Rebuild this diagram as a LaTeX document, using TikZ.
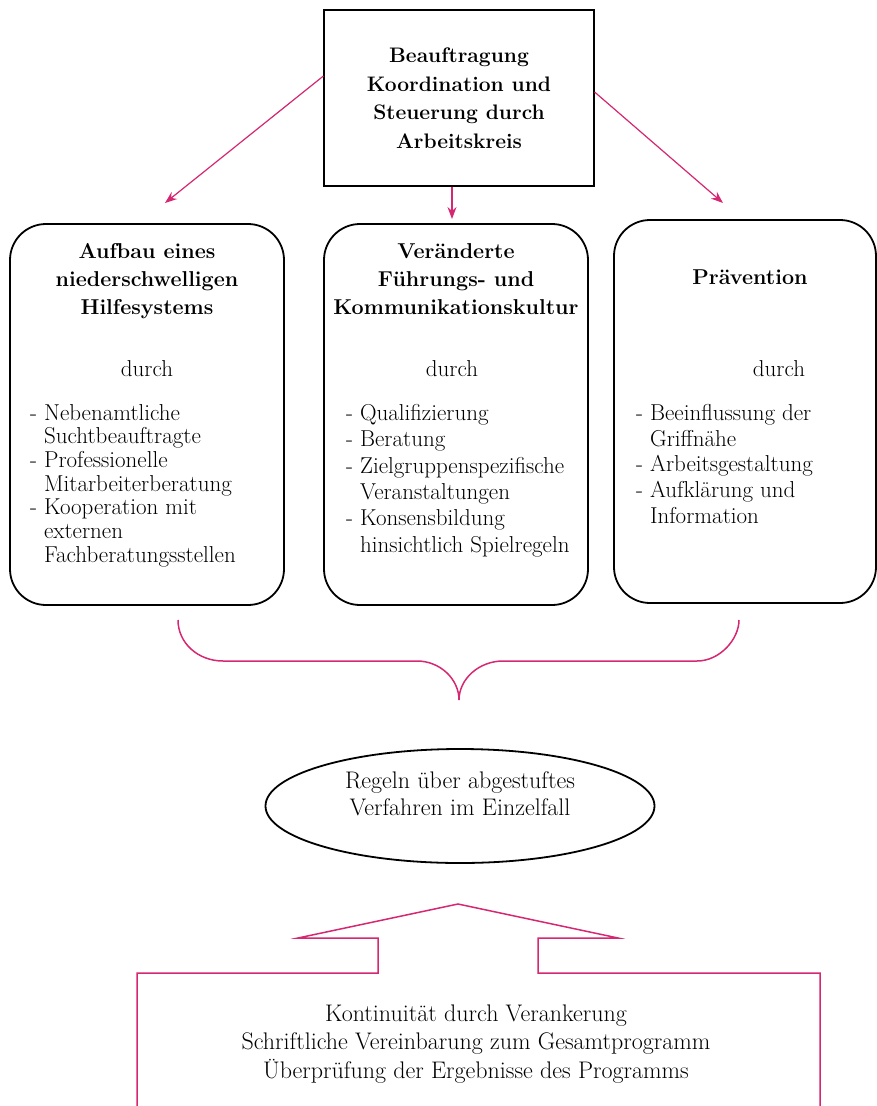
\documentclass[tikz,border=0pt]{standalone}
\usetikzlibrary{arrows.meta, shapes.geometric}
\definecolor{rahmenrot}{RGB}{214,39,114}

\begin{document}
\begin{tikzpicture}[
        x = 1pt, y = -1pt,
        > = {Stealth[length = 12pt, width = 9pt]},
        pfeil/.style = {->, draw = rahmenrot, fill = rahmenrot, line width = 1.2pt},
        kasten/.style = {draw, rounded corners = 36pt, line width = 1.8pt, minimum width = #1, minimum height = 381, inner sep = 0pt},
        titel/.style = {font = \fontsize{21.5}{28}\selectfont\bfseries, align = center, inner sep = 0pt},
        liste/.style = {font = \fontsize{23}{24}\selectfont, align = left, inner sep = 0pt},
        fliess/.style = {font = \fontsize{23}{28.5}\selectfont, align = center, inner sep = 0pt}
    ]
        \useasboundingbox (0,0) rectangle (877,1106);

        \node[draw, line width = 1.2pt, minimum width = 270, minimum height = 176, titel, font = \fontsize{21}{28.5}\selectfont\bfseries] (auftrag) at (459,98) {Beauftragung\\Koordination und\\Steuerung durch\\Arbeitskreis};

        \node[kasten = 274] (hilfe) at (147,414.5) {};
        \node[kasten = 264] (kultur) at (456,414.5) {};
        \node[kasten = 262, minimum height = 383] (praev) at (745,411.5) {};

        % linker Kasten
        \node[titel, anchor = north] (hilfetitel) at (147,243) {Aufbau eines\\niederschwelligen\\Hilfesystems};
        \node[fliess, anchor = north] (hilfedurch) at (147,360) {durch};
        \node[liste, anchor = north west, font = \fontsize{23}{23.7}\selectfont] (hilfeliste) at (30,404) {- Nebenamtliche\\\phantom{- }Suchtbeauftragte\\- Professionelle\\\phantom{- }Mitarbeiterberatung\\- Kooperation mit\\\phantom{- }externen\\\phantom{- }Fachberatungsstellen};

        % mittlerer Kasten
        \node[titel, anchor = north] (kulturtitel) at (456,243) {Veränderte\\Führungs- und\\Kommunikationskultur};
        \node[fliess, anchor = north] (kulturdurch) at (452,360) {durch};
        \node[liste, anchor = north west, font = \fontsize{23}{26.4}\selectfont] (kulturliste) at (346,404) {- Qualifizierung\\- Beratung\\- Zielgruppenspezifische\\\phantom{- }Veranstaltungen\\- Konsensbildung\\\phantom{- }hinsichtlich Spielregeln};

        % rechter Kasten
        \node[titel, anchor = north] (praevtitel) at (750,270) {Prävention};
        \node[fliess, anchor = north] (praevdurch) at (779,360) {durch};
        \node[liste, anchor = north west, font = \fontsize{23}{25.7}\selectfont] (praevliste) at (636,404) {- Beeinflussung der\\\phantom{- }Griffnähe\\- Arbeitsgestaltung\\- Aufklärung und\\\phantom{- }Information};

        \coordinate (links) at (165,203);
        \coordinate (mitte) at (452,219);
        \coordinate (rechts) at (723,203);
        \draw[pfeil] ([yshift = 22pt]auftrag.west) -- (links);
        \draw[pfeil] (auftrag.south -| mitte) -- (mitte);
        \draw[pfeil] ([yshift = 6pt]auftrag.east) -- (rechts);

        % Klammer
        \draw[rahmenrot, line width = 1.5pt] (178,620) .. controls (178,643) and (198,661) .. (223,661) -- (417,661) .. controls (440,661) and (459,679) .. (459,700) .. controls (459,679) and (479,661) .. (503,661) -- (697,661) .. controls (720,661) and (739,639) .. (739,620);

        \node[draw, ellipse, line width = 1.8pt, minimum width = 389, minimum height = 114, fliess, font = \fontsize{24}{27}\selectfont, text depth = 24pt] (regeln) at (460,806) {Regeln über abgestuftes\\Verfahren im Einzelfall};

        \draw[rahmenrot, line width = 1.5pt] (137,1110) -- (137,973) -- (378,973) -- (378,938) -- (298,938) -- (458,904) -- (618,938) -- (538,938) -- (538,973) -- (820,973) -- (820,1110);

        \node[fliess, font = \fontsize{24}{28.5}\selectfont] (kontinuitaet) at (476,1044) {Kontinuität durch Verankerung\\Schriftliche Vereinbarung zum Gesamtprogramm\\Überprüfung der Ergebnisse des Programms};
    \end{tikzpicture}
\end{document}
